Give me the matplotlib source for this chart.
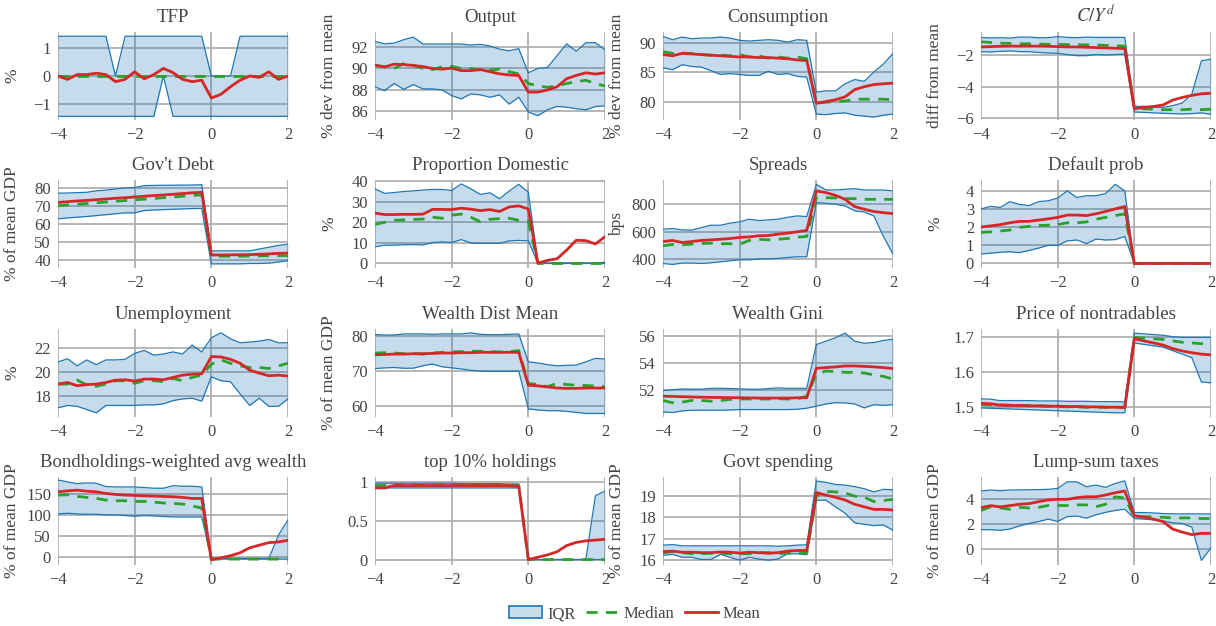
import matplotlib.pyplot as plt
from matplotlib.patches import Patch
from matplotlib.lines import Line2D
from matplotlib.ticker import FuncFormatter

plt.rcParams['font.family'] = ['Liberation Serif', 'DejaVu Serif']
plt.rcParams['mathtext.fontset'] = 'stix'

# quarters relative to default
t = [-4.0, -3.75, -3.5, -3.25, -3.0, -2.75, -2.5, -2.25, -2.0, -1.75, -1.5, -1.25, -1.0,
     -0.75, -0.5, -0.25, 0.0, 0.25, 0.5, 0.75, 1.0, 1.25, 1.5, 1.75, 2.0]

# TFP
tfp_hi = [1.41, 1.41, 1.41, 1.41, 1.41, 1.41, 0, 1.41, 1.41, 1.41, 1.41, 1.41, 1.41, 1.41, 1.41, 1.41, 0, 0, 0, 1.41, 1.41, 1.41, 1.41, 1.41, 1.41]
tfp_lo = [-1.43, -1.43, -1.43, -1.43, -1.43, -1.43, -1.43, -1.43, -1.43, -1.43, -1.43, 0, -1.43, -1.43, -1.43, -1.43, -1.43, -1.43, -1.43, -1.43, -1.43, -1.43, -1.43, -1.43, -1.43]
tfp_med = [0] * 25
tfp_mean = [0, -0.12, 0.05, 0.05, 0.1, 0.05, -0.2, -0.12, 0.15, -0.1, 0.05, 0.27, 0.12, -0.12, -0.2, -0.15, -0.78, -0.65, -0.38, -0.15, 0.0, -0.05, 0.15, -0.12, 0.0]

# Output
out_hi = [92.52, 92.3, 92.37, 92.68, 92.92, 92.28, 92.28, 92.28, 92.28, 92.28, 92.18, 92.25, 92.1, 91.8, 91.65, 91.85, 89.6, 90.0, 90.1, 91.2, 92.3, 91.6, 92.4, 92.4, 91.75]
out_lo = [88.28, 87.94, 88.6, 88.06, 88.5, 88.1, 88.1, 88.0, 87.48, 87.17, 87.63, 87.54, 87.32, 87.54, 86.68, 87.32, 85.94, 85.6, 86.15, 86.46, 86.4, 86.25, 86.15, 86.46, 86.52]
out_mean = [90.3, 90.15, 90.4, 90.37, 90.28, 90.18, 90.0, 89.94, 90.03, 89.8, 89.8, 89.9, 89.7, 89.5, 89.4, 89.35, 87.8, 87.8, 88.0, 88.3, 89.05, 89.35, 89.6, 89.48, 89.6]
out_med = [90.3, 90.15, 90.0, 90.46, 90.3, 90.0, 89.9, 90.15, 90.2, 90.0, 90.0, 89.85, 89.85, 89.94, 89.7, 89.5, 88.6, 88.37, 88.25, 88.37, 88.6, 88.77, 88.9, 88.6, 88.37]

# Consumption
con_hi = [91.06, 90.5, 90.95, 90.67, 90.78, 90.8, 90.95, 90.78, 90.4, 90.28, 90.4, 90.5, 90.4, 90.1, 90.5, 90.4, 81.7, 81.9, 81.9, 83.1, 83.8, 83.5, 85.05, 86.4, 88.2]
con_lo = [85.8, 85.45, 86.3, 86.0, 85.9, 85.3, 84.66, 84.8, 84.66, 84.5, 84.5, 85.2, 84.66, 84.8, 84.35, 84.2, 78.0, 77.9, 78.1, 78.2, 77.8, 77.65, 77.5, 77.8, 78.0]
con_mean = [88.0, 87.8, 88.2, 88.1, 88.0, 87.9, 87.8, 87.7, 87.6, 87.6, 87.5, 87.5, 87.4, 87.3, 87.1, 87.0, 79.8, 80.1, 80.4, 80.9, 82.1, 82.6, 82.96, 83.1, 83.2]
con_med = [88.5, 88.2, 88.25, 88.2, 88.0, 87.9, 87.9, 87.8, 88.0, 87.6, 87.8, 87.4, 87.6, 87.4, 87.6, 87.3, 79.8, 80.0, 80.1, 80.2, 80.5, 80.5, 80.5, 80.5, 80.4]

# C/Y^d
cy_hi = [-0.91, -0.93, -0.92, -0.95, -0.88, -0.88, -0.92, -0.92, -0.85, -0.9, -0.92, -0.88, -0.9, -0.9, -0.9, -0.9, -5.24, -5.24, -5.3, -5.3, -5.2, -5.03, -4.47, -2.37, -2.27]
cy_lo = [-1.8, -1.82, -1.78, -1.75, -1.8, -1.8, -1.85, -1.88, -1.9, -1.98, -2.05, -2.05, -1.98, -2.0, -1.98, -1.95, -5.6, -5.62, -5.65, -5.68, -5.7, -5.72, -5.7, -5.65, -5.75]
cy_mean = [-1.5, -1.48, -1.46, -1.45, -1.45, -1.45, -1.45, -1.46, -1.48, -1.5, -1.5, -1.52, -1.54, -1.56, -1.58, -1.6, -5.4, -5.3, -5.25, -5.15, -4.85, -4.68, -4.55, -4.45, -4.42]
cy_med = [-1.18, -1.22, -1.26, -1.28, -1.3, -1.3, -1.32, -1.33, -1.34, -1.35, -1.36, -1.37, -1.38, -1.4, -1.42, -1.45, -5.35, -5.4, -5.42, -5.45, -5.45, -5.45, -5.42, -5.45, -5.42]

# Gov't debt
gd_hi = [76.9, 77.0, 77.2, 77.4, 78.2, 78.6, 79.2, 79.8, 80.0, 81.1, 81.2, 81.3, 81.3, 81.4, 81.4, 81.6, 45.0, 45.0, 45.0, 45.0, 45.0, 46.0, 47.0, 48.0, 48.7]
gd_lo = [62.7, 63.2, 63.6, 64.0, 64.5, 65.0, 65.5, 66.0, 66.0, 67.3, 67.6, 67.8, 68.0, 68.2, 68.4, 68.5, 37.8, 37.8, 37.8, 37.8, 38.0, 38.0, 38.2, 38.8, 39.6]
gd_mean = [71.8, 72.2, 72.6, 72.9, 73.3, 73.7, 74.1, 74.4, 74.8, 75.2, 75.6, 75.9, 76.3, 76.7, 77.1, 77.4, 42.7, 42.7, 42.8, 42.8, 42.9, 43.1, 43.3, 43.6, 43.8]
gd_med = [70.0, 70.4, 70.8, 71.2, 71.6, 72.0, 72.4, 72.8, 73.2, 73.6, 74.0, 74.4, 74.8, 75.2, 75.6, 76.0, 42.0, 42.0, 42.0, 42.0, 42.1, 42.2, 42.2, 42.3, 42.3]

# Proportion domestic
pd_hi = [36.3, 34.1, 34.5, 35.0, 35.3, 35.7, 36.0, 36.0, 35.5, 38.7, 36.3, 33.6, 34.4, 31.5, 35.2, 38.5, 34.7, 0.2, 0.2, 0.2, 0.2, 0.2, 0.2, 0.2, 0.6]
pd_lo = [8.1, 8.9, 8.9, 9.1, 9.2, 9.0, 10.2, 10.5, 10.2, 11.6, 10.0, 9.8, 9.8, 9.8, 11.0, 11.2, 11.0, 0, 0, 0, 0, 0, 0, 0, 0]
pd_mean = [24.5, 23.8, 23.8, 23.9, 23.9, 24.0, 26.3, 26.3, 26.2, 26.9, 26.4, 25.7, 26.2, 25.3, 27.5, 28.0, 26.5, 0.2, 1.5, 2.3, 6.5, 11.3, 11.1, 9.5, 13.0]
pd_med = [19.0, 20.0, 21.0, 21.2, 21.4, 21.6, 22.5, 22.0, 23.5, 24.0, 22.5, 20.3, 21.5, 21.8, 22.0, 21.0, 20.5, 0, 0, 0, 0, 0, 0, 0, 0]

# Spreads
sp_hi = [618, 623, 613, 611, 630, 647, 647, 662, 672, 691, 681, 686, 691, 705, 715, 710, 945, 904, 904, 909, 914, 904, 904, 904, 897]
sp_lo = [368, 361, 371, 371, 368, 373, 380, 388, 395, 395, 400, 402, 405, 412, 417, 417, 812, 807, 800, 788, 752, 744, 715, 565, 436]
sp_mean = [528, 536, 521, 528, 536, 540, 545, 550, 558, 562, 570, 572, 582, 589, 599, 609, 897, 885, 865, 836, 783, 764, 747, 739, 732]
sp_med = [497, 507, 504, 509, 514, 516, 512, 512, 509, 536, 545, 540, 545, 550, 560, 565, 848, 848, 846, 841, 841, 836, 836, 836, 836]

# Default prob
dp_hi = [3.02, 3.16, 3.1, 3.42, 3.27, 3.2, 3.42, 3.47, 3.62, 4.02, 3.65, 3.75, 3.75, 3.87, 4.38, 4.02, 0, 0, 0, 0, 0, 0, 0, 0, 0]
dp_lo = [0.53, 0.57, 0.62, 0.65, 0.6, 0.72, 0.85, 1.0, 1.0, 1.25, 1.3, 1.1, 1.35, 1.3, 1.32, 1.5, 0, 0, 0, 0, 0, 0, 0, 0, 0]
dp_mean = [2.02, 2.08, 2.15, 2.25, 2.33, 2.33, 2.4, 2.47, 2.55, 2.68, 2.68, 2.65, 2.75, 2.88, 3.02, 3.15, 0, 0, 0, 0, 0, 0, 0, 0, 0]
dp_med = [1.72, 1.75, 1.8, 1.85, 2.0, 2.05, 2.1, 2.12, 2.15, 2.25, 2.25, 2.3, 2.45, 2.55, 2.65, 2.75, 0, 0, 0, 0, 0, 0, 0, 0, 0]

# Unemployment
un_hi = [20.83, 21.1, 20.5, 21.0, 20.6, 21.0, 21.0, 21.05, 21.55, 21.8, 21.4, 21.5, 21.67, 21.5, 22.25, 21.67, 22.86, 23.28, 22.78, 22.44, 22.5, 22.58, 22.72, 22.44, 22.44]
un_lo = [16.97, 17.17, 17.1, 16.83, 16.55, 17.17, 17.17, 17.17, 17.17, 17.22, 17.22, 17.3, 17.58, 17.72, 17.78, 17.53, 19.58, 19.25, 19.17, 18.14, 17.17, 17.78, 17.1, 17.1, 17.72]
un_mean = [18.97, 19.1, 18.83, 18.92, 18.97, 19.1, 19.3, 19.33, 19.22, 19.39, 19.39, 19.33, 19.53, 19.72, 19.8, 19.83, 21.28, 21.25, 21.05, 20.72, 20.14, 19.89, 19.67, 19.72, 19.64]
un_med = [18.97, 18.97, 19.3, 18.9, 18.78, 18.97, 19.25, 19.25, 19.03, 19.25, 19.25, 19.17, 19.44, 19.25, 19.53, 19.72, 20.64, 21.0, 20.72, 20.5, 20.36, 20.36, 20.28, 20.5, 20.72]

# Wealth dist mean
wd_hi = [80.3, 80.2, 80.2, 80.5, 80.5, 80.5, 80.4, 80.5, 80.5, 80.5, 80.8, 80.4, 80.3, 80.3, 80.4, 80.5, 72.6, 72.3, 71.8, 71.5, 71.6, 71.7, 72.6, 73.6, 73.4]
wd_lo = [70.7, 70.9, 71.0, 70.8, 70.8, 71.5, 72.0, 71.2, 70.9, 70.6, 70.2, 70.0, 69.9, 69.9, 69.9, 70.0, 59.3, 59.0, 58.8, 58.8, 58.6, 58.3, 58.0, 58.0, 58.0]
wd_mean = [74.6, 74.7, 74.8, 74.8, 74.9, 74.9, 75.0, 75.1, 75.1, 75.2, 75.2, 75.3, 75.3, 75.3, 75.3, 75.3, 66.0, 65.8, 65.5, 65.2, 65.1, 65.1, 65.2, 65.2, 65.2]
wd_med = [75.1, 75.2, 75.1, 74.9, 75.0, 74.8, 75.1, 75.3, 75.4, 75.5, 75.6, 75.6, 75.5, 75.4, 75.5, 75.8, 66.5, 66.2, 65.6, 66.5, 66.2, 66.0, 65.9, 65.8, 65.6]

# Wealth Gini
wg_hi = [51.95, 52.02, 52.07, 52.06, 52.05, 52.12, 52.12, 52.1, 52.08, 52.05, 52.05, 52.1, 52.15, 52.12, 52.12, 52.12, 55.35, 55.6, 55.85, 56.2, 55.6, 55.45, 55.5, 55.65, 55.75]
wg_lo = [50.38, 50.33, 50.45, 50.5, 50.5, 50.5, 50.5, 50.52, 50.55, 50.55, 50.55, 50.55, 50.55, 50.55, 50.57, 50.65, 50.8, 50.96, 51.06, 51.04, 50.96, 50.67, 50.91, 50.86, 50.91]
wg_mean = [51.54, 51.52, 51.5, 51.48, 51.46, 51.45, 51.44, 51.43, 51.42, 51.41, 51.4, 51.4, 51.4, 51.4, 51.42, 51.42, 53.6, 53.65, 53.7, 53.77, 53.77, 53.74, 53.7, 53.65, 53.58]
wg_med = [51.22, 51.05, 51.1, 51.22, 51.22, 51.17, 51.22, 51.3, 51.33, 51.33, 51.33, 51.33, 51.35, 51.33, 51.33, 51.54, 53.16, 53.4, 53.35, 53.3, 53.3, 53.25, 53.1, 53.0, 52.8]

# Price of nontradables
pn_hi = [1.524, 1.523, 1.519, 1.519, 1.519, 1.519, 1.518, 1.518, 1.518, 1.517, 1.517, 1.517, 1.516, 1.516, 1.516, 1.515, 1.712, 1.710, 1.708, 1.706, 1.702, 1.700, 1.700, 1.700, 1.700]
pn_lo = [1.498, 1.497, 1.496, 1.495, 1.494, 1.493, 1.492, 1.491, 1.490, 1.489, 1.488, 1.487, 1.486, 1.485, 1.484, 1.484, 1.684, 1.680, 1.676, 1.672, 1.662, 1.652, 1.642, 1.572, 1.570]
pn_mean = [1.511, 1.510, 1.506, 1.505, 1.505, 1.504, 1.504, 1.503, 1.503, 1.502, 1.502, 1.501, 1.501, 1.500, 1.500, 1.499, 1.696, 1.690, 1.684, 1.678, 1.668, 1.661, 1.656, 1.652, 1.650]
pn_med = [1.508, 1.507, 1.507, 1.506, 1.505, 1.505, 1.504, 1.503, 1.502, 1.501, 1.501, 1.500, 1.500, 1.500, 1.500, 1.500, 1.700, 1.698, 1.696, 1.694, 1.690, 1.686, 1.684, 1.682, 1.680]

# Bondholdings-weighted avg wealth
bw_hi = [183.6, 178.9, 175, 176.6, 175.8, 168, 167, 167, 167, 165.6, 164, 164, 170, 168.7, 168.7, 167, -2.3, -2.3, -2.3, -2.3, -2.3, -2.3, -2.3, 52.3, 89]
bw_lo = [103, 104.7, 103, 102.3, 102.3, 100.8, 100.8, 99.2, 97.6, 99.2, 98.4, 96.9, 96, 96, 96, 96, -4, -4, -4, -4, -4, -4, -4, -4, -4]
bw_mean = [155.5, 157.8, 159.4, 157, 155.5, 151.6, 149.2, 147.7, 146.9, 146, 145.3, 144.5, 143.8, 142.2, 139.8, 139.8, -5.5, -1, 4, 11, 22.7, 29, 35, 36.7, 40.6]
bw_med = [147.7, 148.4, 144.5, 142.2, 139.8, 136, 134.4, 134.4, 132.8, 132.8, 131.2, 128.9, 128, 126.6, 121.9, 117.2, -4, -4, -4, -4, -4, -4, -4, -4, -4]

# top 10% holdings
tt_hi = [0.98, 0.98, 0.98, 0.98, 0.98, 0.98, 0.98, 0.98, 0.98, 0.975, 0.975, 0.975, 0.975, 0.975, 0.97, 0.97, 0, 0, 0, 0, 0, 0, 0, 0.82, 0.88]
tt_lo = [0.93, 0.92, 0.92, 0.92, 0.92, 0.92, 0.92, 0.92, 0.92, 0.92, 0.92, 0.92, 0.92, 0.92, 0.92, 0.92, 0, 0, 0, 0, 0, 0, 0, 0, 0]
tt_mean = [0.92, 0.92, 0.95, 0.95, 0.95, 0.95, 0.95, 0.95, 0.95, 0.95, 0.95, 0.95, 0.95, 0.95, 0.95, 0.94, 0, 0.03, 0.06, 0.1, 0.18, 0.22, 0.24, 0.25, 0.26]
tt_med = [0.95, 0.95, 0.96, 0.96, 0.96, 0.96, 0.96, 0.96, 0.96, 0.96, 0.955, 0.955, 0.955, 0.955, 0.955, 0.955, 0, 0, 0, 0, 0, 0, 0, 0, 0]

# Govt spending
gs_hi = [16.7, 16.73, 16.67, 16.67, 16.67, 16.67, 16.67, 16.67, 16.67, 16.67, 16.67, 16.67, 16.65, 16.67, 16.7, 16.72, 19.71, 19.65, 19.55, 19.52, 19.45, 19.35, 19.2, 19.32, 19.3]
gs_lo = [16.23, 16.27, 16.13, 16.13, 16.03, 16.03, 16.27, 16.13, 16.0, 16.13, 16.05, 16.0, 16.05, 16.3, 16.3, 16.25, 18.81, 18.81, 18.5, 18.2, 17.75, 17.68, 17.62, 17.65, 17.4]
gs_mean = [16.4, 16.42, 16.37, 16.37, 16.35, 16.35, 16.38, 16.37, 16.33, 16.37, 16.35, 16.32, 16.35, 16.42, 16.45, 16.45, 19.17, 19.05, 18.95, 18.82, 18.62, 18.5, 18.38, 18.38, 18.35]
gs_med = [16.35, 16.4, 16.35, 16.3, 16.3, 16.32, 16.32, 16.3, 16.3, 16.3, 16.35, 16.35, 16.3, 16.32, 16.35, 16.32, 19.0, 19.22, 19.2, 19.15, 19.0, 18.95, 18.75, 18.8, 18.85]

# Lump-sum taxes
ls_hi = [4.67, 4.75, 4.7, 4.75, 4.76, 4.77, 4.78, 4.8, 4.88, 5.41, 5.41, 5.01, 5.15, 4.96, 5.28, 5.49, 2.93, 2.93, 2.9, 2.85, 2.83, 2.82, 2.83, 2.82, 2.82]
ls_lo = [1.55, 1.55, 1.5, 1.6, 1.85, 2.05, 2.2, 2.4, 2.21, 2.61, 2.65, 2.48, 2.75, 2.95, 3.1, 3.2, 2.45, 2.4, 2.35, 2.25, 2.1, 2.05, 1.75, -0.93, 0.08]
ls_mean = [3.33, 3.49, 3.39, 3.49, 3.6, 3.65, 3.81, 3.95, 4.0, 4.0, 4.13, 4.21, 4.2, 4.35, 4.53, 4.67, 2.67, 2.55, 2.4, 2.2, 1.6, 1.35, 1.15, 1.25, 1.25]
ls_med = [3.1, 3.4, 3.3, 3.2, 3.35, 3.3, 3.35, 3.5, 3.5, 3.5, 3.55, 3.55, 3.4, 3.6, 4.2, 4.1, 2.6, 2.6, 2.6, 2.55, 2.5, 2.5, 2.5, 2.45, 2.45]

titles = ['TFP', 'Output', 'Consumption', r'$C/Y^d$',
          "Gov't Debt", 'Proportion Domestic', 'Spreads', 'Default prob',
          'Unemployment', 'Wealth Dist Mean', 'Wealth Gini', 'Price of nontradables',
          'Bondholdings-weighted avg wealth', 'top 10% holdings', 'Govt spending', 'Lump-sum taxes']
ylabels = ['%', '% dev from mean', '% dev from mean', 'diff from mean',
           '% of mean GDP', '%', 'bps', '%',
           '%', '% of mean GDP', '', '',
           '% of mean GDP', '', '% of mean GDP', '% of mean GDP']
series = [(tfp_lo, tfp_hi, tfp_med, tfp_mean), (out_lo, out_hi, out_med, out_mean),
          (con_lo, con_hi, con_med, con_mean), (cy_lo, cy_hi, cy_med, cy_mean),
          (gd_lo, gd_hi, gd_med, gd_mean), (pd_lo, pd_hi, pd_med, pd_mean),
          (sp_lo, sp_hi, sp_med, sp_mean), (dp_lo, dp_hi, dp_med, dp_mean),
          (un_lo, un_hi, un_med, un_mean), (wd_lo, wd_hi, wd_med, wd_mean),
          (wg_lo, wg_hi, wg_med, wg_mean), (pn_lo, pn_hi, pn_med, pn_mean),
          (bw_lo, bw_hi, bw_med, bw_mean), (tt_lo, tt_hi, tt_med, tt_mean),
          (gs_lo, gs_hi, gs_med, gs_mean), (ls_lo, ls_hi, ls_med, ls_mean)]
yticks = [[-1, 0, 1], [86, 88, 90, 92], [80, 85, 90], [-6, -4, -2],
          [40, 50, 60, 70, 80], [0, 10, 20, 30, 40], [400, 600, 800], [0, 1, 2, 3, 4],
          [18, 20, 22], [60, 70, 80], [52, 54, 56], [1.5, 1.6, 1.7],
          [0, 50, 100, 150], [0, 0.5, 1], [16, 17, 18, 19], [0, 2, 4]]
ylims = [(-1.56, 1.56), (85.2, 93.4), (77.0, 91.8), (-6.1, -0.56),
         (35.5, 84.2), (-2.2, 40.6), (335, 977), (-0.25, 4.62),
         (16.2, 23.6), (57.0, 81.9), (50.0, 56.5), (1.472, 1.724),
         (-18, 190.6), (-0.07, 1.06), (15.77, 19.9), (-1.3, 5.8)]

BLUE, GREEN, RED = '#1f77b4', '#2ca02c', '#d62728'
TXT = '#444444'
W, H = 1216, 626
col_left = [58, 375, 663, 981]
row_top = [32, 180, 329, 477]
aw, ah = 230, 88

fmt = FuncFormatter(lambda v, p: ('%g' % v).replace('-', '\u2212'))

fig = plt.figure(figsize=(W / 100, H / 100), dpi=100)
for k in range(16):
    r, c = divmod(k, 4)
    ax = fig.add_axes([col_left[c] / W, 1 - (row_top[r] + ah) / H, aw / W, ah / H])
    lo, hi, med, mean = series[k]
    ax.fill_between(t, lo, hi, color=BLUE, alpha=0.25, lw=0)
    ax.plot(t, lo, color=BLUE, lw=0.9)
    ax.plot(t, hi, color=BLUE, lw=0.9)
    ax.plot(t, med, color=GREEN, lw=2, ls=(0, (4, 3)))
    ax.plot(t, mean, color=RED, lw=2)
    ax.set_xlim(-4, 2)
    ax.set_ylim(*ylims[k])
    ax.set_xticks([-4, -2, 0, 2])
    ax.set_yticks(yticks[k])
    ax.xaxis.set_major_formatter(fmt)
    ax.yaxis.set_major_formatter(fmt)
    ax.grid(True, color='#b0b0b0', lw=1.3)
    ax.set_axisbelow(True)
    for s in ax.spines.values():
        s.set_visible(False)
    ax.tick_params(length=0, labelsize=12, colors=TXT, pad=5)
    ax.set_title(titles[k], fontsize=13.5, color=TXT, pad=7)
    if ylabels[k]:
        ax.set_ylabel(ylabels[k], fontsize=12.5, color=TXT)
        ax.yaxis.set_label_coords(-0.165, 0.5)

handles = [Patch(facecolor=(0.12, 0.47, 0.71, 0.25), edgecolor=BLUE, lw=1.2),
           Line2D([], [], color=GREEN, lw=2, ls=(0, (4, 3))),
           Line2D([], [], color=RED, lw=2)]
fig.legend(handles, ['IQR', 'Median', 'Mean'], loc='center', bbox_to_anchor=(0.522, 0.019),
           ncol=3, frameon=False, fontsize=12, handlelength=2.0, handletextpad=0.3,
           columnspacing=0.6, labelcolor=TXT)

fig.savefig('out.png', dpi=100)
